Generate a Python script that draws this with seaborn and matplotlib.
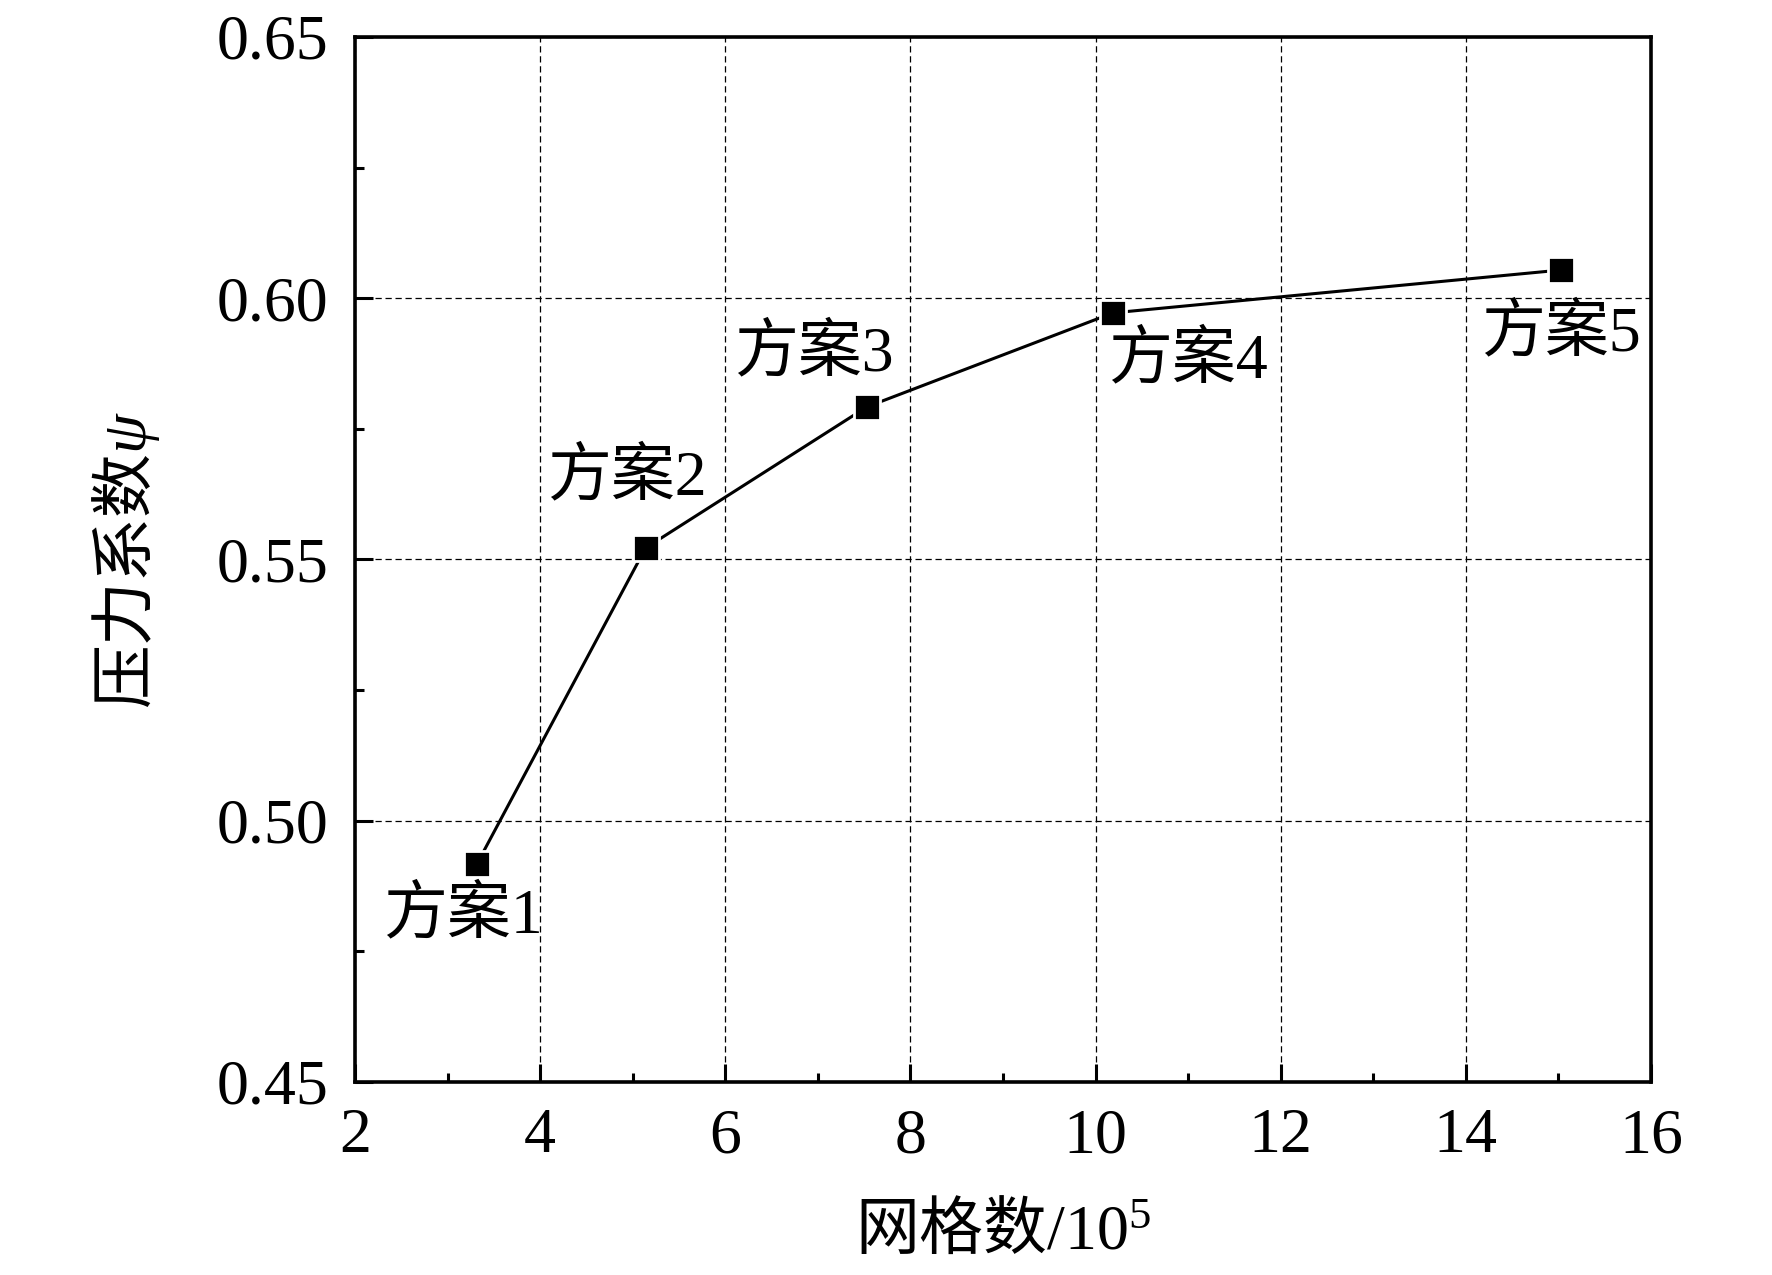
import matplotlib
matplotlib.use("Agg")
import matplotlib.pyplot as plt
import seaborn as sns
import pandas as pd
from matplotlib.ticker import MultipleLocator, FormatStrFormatter

# ---- data ----
grid_counts = [3.32, 5.14, 7.53, 10.19, 15.03]          # 网格数 / 10^5
pressure_coef = [0.4918, 0.5522, 0.5792, 0.5972, 0.6054]  # 压力系数 ψ
scheme_labels = ["方案1", "方案2", "方案3", "方案4", "方案5"]

x_ticks = [2, 4, 6, 8, 10, 12, 14, 16]
y_ticks = [0.45, 0.50, 0.55, 0.60, 0.65]

df = pd.DataFrame({"x": grid_counts, "y": pressure_coef, "label": scheme_labels})

sns.set_style("ticks")
plt.rcParams["font.family"] = ["Liberation Serif", "Noto Sans CJK SC", "DejaVu Sans"]
plt.rcParams["mathtext.fontset"] = "custom"
plt.rcParams["mathtext.rm"] = "Liberation Serif"
plt.rcParams["mathtext.it"] = "Liberation Serif:italic"
plt.rcParams["mathtext.sf"] = "Noto Sans CJK SC"
plt.rcParams["axes.unicode_minus"] = False
for key in ["text.color", "axes.labelcolor", "xtick.color", "ytick.color",
            "axes.edgecolor", "xtick.labelcolor", "ytick.labelcolor"]:
    plt.rcParams[key] = "black"

fig = plt.figure(figsize=(17.72, 12.75), dpi=100)
ax = fig.add_axes([0.2003, 0.1514, 0.7314, 0.8196])

# grid
ax.grid(True, which="major", color="black", linestyle=(0, (5, 3)), linewidth=0.9)
ax.set_axisbelow(True)

sns.lineplot(data=df, x="x", y="y", ax=ax, color="black", linewidth=2.2,
             marker="s", markersize=18.5, markerfacecolor="black",
             markeredgecolor="white", markeredgewidth=2.0, sort=False, zorder=3)

# annotation offsets (pixels -> points at dpi 100)
offsets_px = [(-14, -53), (-19, 70), (-53, 52), (75, -49), (0, -64)]
for xv, yv, lab, (dx, dy) in zip(grid_counts, pressure_coef, scheme_labels, offsets_px):
    ax.annotate(lab, (xv, yv), xytext=(dx * 0.72, dy * 0.72), textcoords="offset points",
                ha="center", va="center", fontsize=46, color="black", zorder=4)

ax.set_xlim(2, 16)
ax.set_ylim(0.45, 0.65)
ax.set_xticks(x_ticks)
ax.set_yticks(y_ticks)
ax.xaxis.set_minor_locator(MultipleLocator(1))
ax.yaxis.set_minor_locator(MultipleLocator(0.025))
ax.yaxis.set_major_formatter(FormatStrFormatter("%.2f"))

ax.tick_params(axis="both", which="major", direction="in", length=13, width=2.2,
               labelsize=46, pad=19, top=False, right=False, colors="black")
ax.tick_params(axis="both", which="minor", direction="in", length=6.5, width=2.2,
               top=False, right=False, colors="black")

for sp in ax.spines.values():
    sp.set_linewidth(2.6)
    sp.set_color("black")
    sp.set_visible(True)

ax.set_xlabel("$\\mathsf{网格数}$/10$^{5}$", fontsize=46, color="black")
ax.set_ylabel("$\\mathsf{压力系数}\\psi$", fontsize=46, color="black")
ax.xaxis.set_label_coords(0.5, -0.143)
ax.xaxis.label.set_verticalalignment("center")
ax.yaxis.set_label_coords(-0.177, 0.5)
ax.yaxis.label.set_verticalalignment("center")

fig.savefig("out.png", dpi=100, facecolor="white")
